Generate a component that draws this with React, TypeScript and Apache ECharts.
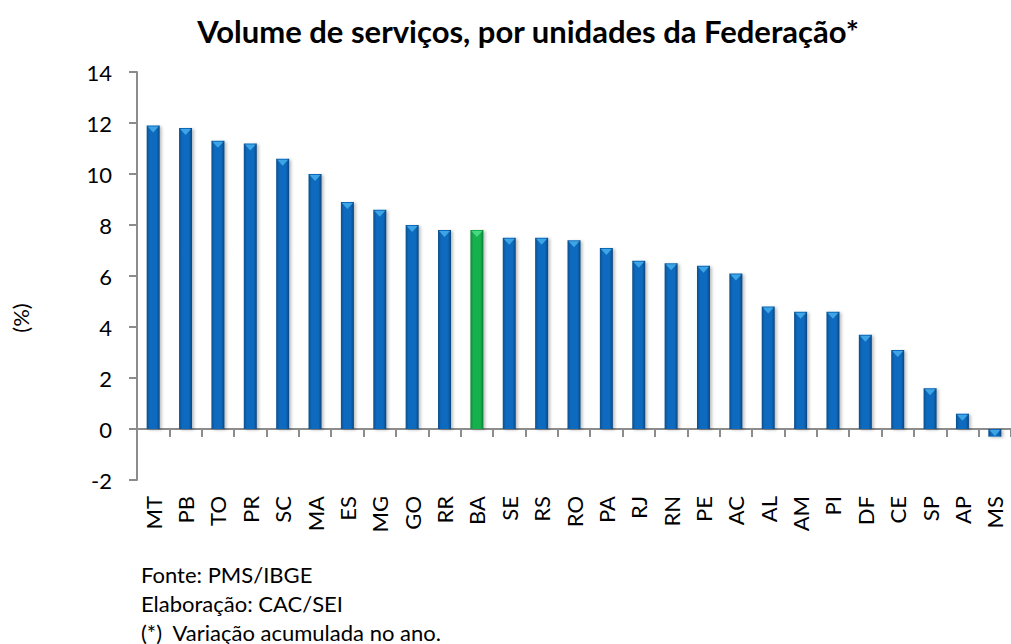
import React, { useEffect, useRef } from "react";
import * as echarts from "echarts";

const categories = ["MT","PB","TO","PR","SC","MA","ES","MG","GO","RR","BA","SE","RS","RO","PA","RJ","RN","PE","AC","AL","AM","PI","DF","CE","SP","AP","MS"];
const values = [11.9,11.8,11.3,11.2,10.6,10.0,8.9,8.6,8.0,7.8,7.8,7.5,7.5,7.4,7.1,6.6,6.5,6.4,6.1,4.8,4.6,4.6,3.7,3.1,1.6,0.6,-0.3];
const highlight = "BA";
const yTicks = [-2, 0, 2, 4, 6, 8, 10, 12, 14];
const titleText = "Volume de serviços, por unidades da Federação*";
const footerLines = ["Fonte: PMS/IBGE", "Elaboração: CAC/SEI", "(*)  Variação acumulada no ano."];

const FONT = "Lato, 'Noto Sans', sans-serif";

const blueGrad = new echarts.graphic.LinearGradient(0, 0, 1, 0, [
  { offset: 0, color: "#0A4E8C" },
  { offset: 0.25, color: "#0B6BBE" },
  { offset: 0.75, color: "#0B6BBE" },
  { offset: 1, color: "#09457E" },
]);
const greenGrad = new echarts.graphic.LinearGradient(0, 0, 1, 0, [
  { offset: 0, color: "#0C8A3A" },
  { offset: 0.25, color: "#18B14F" },
  { offset: 0.75, color: "#18B14F" },
  { offset: 1, color: "#0B7D35" },
]);

export default function App() {
  const ref = useRef<HTMLDivElement>(null);
  useEffect(() => {
    if (!ref.current) return;
    const chart = echarts.init(ref.current, null, { renderer: "svg" });
    chart.setOption({
      animation: false,
      backgroundColor: "#ffffff",
      grid: { left: 137, top: 72, bottom: 164, width: 882, containLabel: false },
      xAxis: [
        {
          type: "category",
          data: categories,
          axisLine: { onZero: true, lineStyle: { color: "#8C8C8C", width: 2 } },
          axisTick: { show: true, alignWithLabel: false, length: 8, lineStyle: { color: "#8C8C8C", width: 2 } },
          axisLabel: { show: false },
        },
        {
          type: "category",
          data: categories,
          position: "bottom",
          axisLine: { show: false, onZero: false },
          axisTick: { show: false },
          axisLabel: { show: true, rotate: 90, margin: 16, fontSize: 22, color: "#000", fontFamily: FONT, interval: 0 },
        },
      ],
      yAxis: {
        type: "value",
        min: yTicks[0],
        max: yTicks[yTicks.length - 1],
        interval: 2,
        splitLine: { show: false },
        axisLine: { show: true, lineStyle: { color: "#8C8C8C", width: 2 } },
        axisTick: { show: true, length: 8, lineStyle: { color: "#8C8C8C", width: 2 } },
        axisLabel: { margin: 25, fontSize: 22, color: "#000", fontFamily: FONT },
      },
      series: [
        {
          type: "bar",
          xAxisIndex: 0,
          barWidth: 13,
          data: values.map((v, i) => ({
            value: v,
            itemStyle: {
              color: categories[i] === highlight ? greenGrad : blueGrad,
              shadowColor: "rgba(0,0,0,0.25)",
              shadowBlur: 3,
              shadowOffsetX: 2,
              shadowOffsetY: 1,
            },
          })),
        },
        {
          type: "scatter",
          xAxisIndex: 0,
          symbol: "triangle",
          symbolRotate: 180,
          symbolSize: [11, 6],
          symbolOffset: [0, 4],
          silent: true,
          z: 3,
          data: values.map((v, i) => ({
            value: Math.max(v, 0),
            itemStyle: { color: categories[i] === highlight ? "#52E28E" : "#4AB3EF" },
          })),
        },
      ],
      graphic: [
        {
          type: "text",
          x: 528,
          y: 31,
          style: { text: titleText, font: `bold 31px ${FONT}`, fill: "#000", textAlign: "center", textVerticalAlign: "middle" },
        },
        {
          type: "text",
          x: 20,
          y: 318,
          rotation: Math.PI / 2,
          style: { text: "(%)", font: `22px ${FONT}`, fill: "#000", textAlign: "center", textVerticalAlign: "middle" },
        },
        ...footerLines.map((t, i) => ({
          type: "text",
          x: 141,
          y: 574 + i * 29,
          style: { text: t, font: `22px ${FONT}`, fill: "#000", textAlign: "left", textVerticalAlign: "middle" },
        })),
      ],
    });
    return () => chart.dispose();
  }, []);
  return <div ref={ref} style={{ position: "absolute", left: 0, top: 0, width: 1011, height: 644 }} />;
}
